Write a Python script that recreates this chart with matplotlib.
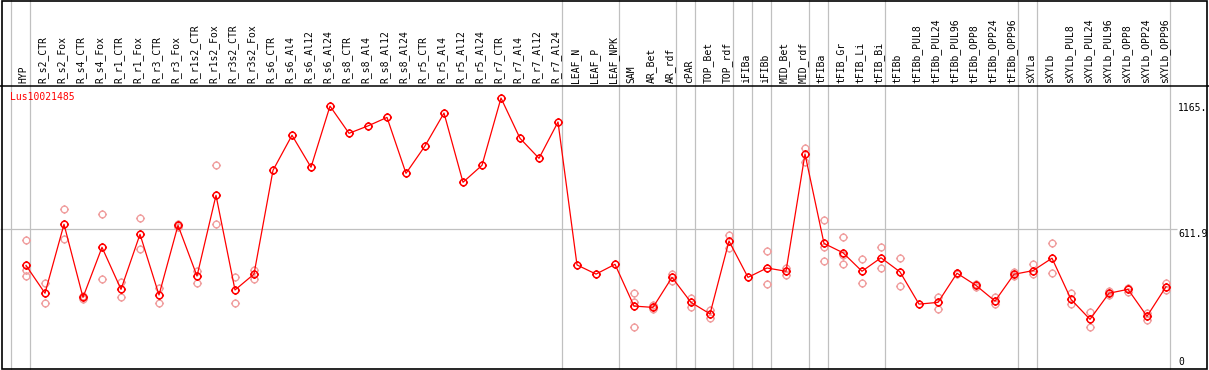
import numpy as np
import matplotlib.pyplot as plt
from matplotlib.path import Path
from matplotlib.patches import Rectangle

plt.rcParams['font.family'] = ['DejaVu Sans Mono']

gene = "Lus10021485"

samples = [
    "HYP", "R_s2_CTR", "R_s2_Fox", "R_s4_CTR", "R_s4_Fox", "R_r1_CTR", "R_r1_Fox",
    "R_r3_CTR", "R_r3_Fox", "R_r1s2_CTR", "R_r1s2_Fox", "R_r3s2_CTR", "R_r3s2_Fox",
    "R_s6_CTR", "R_s6_Al4", "R_s6_Al12", "R_s6_Al24", "R_s8_CTR", "R_s8_Al4",
    "R_s8_Al12", "R_s8_Al24", "R_r5_CTR", "R_r5_Al4", "R_r5_Al12", "R_r5_Al24",
    "R_r7_CTR", "R_r7_Al4", "R_r7_Al12", "R_r7_Al24", "LEAF_N", "LEAF_P", "LEAF_NPK",
    "SAM", "AR_Bet", "AR_rdf", "cPAR", "TOP_Bet", "TOP_rdf", "iFIBa", "iFIBb",
    "MID_Bet", "MID_rdf", "tFIBa", "tFIB_Gr", "tFIB_Li", "tFIB_Bi", "tFIBb",
    "tFIBb_PUL8", "tFIBb_PUL24", "tFIBb_PUL96", "tFIBb_OPP8", "tFIBb_OPP24",
    "tFIBb_OPP96", "sXYLa", "sXYLb", "sXYLb_PUL8", "sXYLb_PUL24", "sXYLb_PUL96",
    "sXYLb_OPP8", "sXYLb_OPP24", "sXYLb_OPP96",
]

means = [
    444, 316, 633, 297, 527, 334, 587, 308, 628, 395, 766, 331, 404,
    881, 1042, 895, 1176, 1051, 1085, 1124, 867, 993, 1144, 826, 904,
    1213, 1028, 936, 1103, 446, 404, 449,
    257, 251, 389, 274, 221, 556, 389, 432, 417, 956,
    545, 502, 417, 479, 414,
    266, 274, 408, 352, 280, 403,
    420, 477, 288, 196, 316, 334, 210, 346,
]

reps = [
    [559, 423, 395], [362, 270], [702, 564], [303, 290], [679, 380], [366, 300],
    [660, 518], [341, 270], [633, 622], [420, 364], [904, 633], [389, 270], [423, 380],
    [], [], [], [], [], [], [], [], [], [], [], [], [], [], [], [], [], [], [],
    [316, 277, 160], [262, 244], [404, 374], [296, 251], [239, 204], [584, 525], [],
    [510, 357], [433, 400], [982, 921],
    [653, 530, 463], [575, 492, 449], [472, 362], [527, 431], [478, 349],
    [], [300, 242], [411, 404], [357, 345], [300, 265], [415, 395],
    [449, 403], [545, 408], [316, 265], [228, 160], [326, 308], [340, 323],
    [227, 193], [364, 331],
]

group_ends = [-1, 0, 28, 31, 34, 35, 37, 38, 39, 41, 42, 45, 52, 53, 60]
y_ticks = [0, 611.9, 1165]
y_tick_labels = ["0", "611.9", "1165."]

W, H = 1209, 370
x0_px, dx_px = 26, 19          # first column and column spacing (px)
y0_px, dy_px = 362, 0.2176     # zero line (px) and px per unit

fig = plt.figure(figsize=(W / 100, H / 100), dpi=100)
ax = fig.add_axes([0, 0, 1, 1])
ax.set_xlim(-x0_px / dx_px, (W - x0_px) / dx_px)
ax.set_ylim(-(H - y0_px) / dy_px, y0_px / dy_px)
ax.axis('off')

grid_c = '#c0c0c0'
x = np.arange(len(samples))

# grid
for g in group_ends:
    ax.axvline(g + 0.22, color=grid_c, lw=0.9, zorder=1)
ax.hlines(y_ticks[1], ax.get_xlim()[0], 60.58, color=grid_c, lw=0.9, zorder=1)

# header
hdr = ax.get_xaxis_transform()
ax.axhline(0, color='none')
ax.plot([ax.get_xlim()[0], ax.get_xlim()[1]], [1 - 85.5 / H] * 2, color='black',
        lw=1.1, transform=hdr, clip_on=False, zorder=3)
for i, s in enumerate(samples):
    ax.text(i + 0.04, 1 - 83 / H, s, rotation=90, rotation_mode='anchor',
            ha='left', va='baseline', fontsize=7, transform=hdr)

# y tick labels
tx = (1178 - x0_px) / dx_px
ax.text(tx, y_ticks[0], y_tick_labels[0], fontsize=7, va='center', ha='left')
ax.text(tx, y_ticks[1], y_tick_labels[1], fontsize=7, va='top', ha='left')
ax.text(tx, y_ticks[2], y_tick_labels[2], fontsize=7, va='center', ha='left')

ax.text((10 - x0_px) / dx_px, (y0_px - 97) / dy_px, gene, color='red',
        fontsize=7, va='center', ha='left')

# marker: circle with four short stubs
stub = 1.35
marker = Path.make_compound_path(
    Path.unit_circle(),
    Path([[0, 1], [0, stub]], [Path.MOVETO, Path.LINETO]),
    Path([[0, -1], [0, -stub]], [Path.MOVETO, Path.LINETO]),
    Path([[1, 0], [stub, 0]], [Path.MOVETO, Path.LINETO]),
    Path([[-1, 0], [-stub, 0]], [Path.MOVETO, Path.LINETO]),
)

for i, r in enumerate(reps):
    if r:
        ax.plot([i] * len(r), r, ls='none', marker=marker, ms=6.5, mfc='none',
                mec='#f0a0a0', mew=1.0, zorder=4)

ax.plot(x, means, color='red', lw=0.9, marker=marker, ms=6.5, mfc='none',
        mec='red', mew=1.1, zorder=5)

# outer frame
fig.patches.append(Rectangle((1.5 / W, 1 - 368.5 / H), 1205 / W, 368 / H,
                             transform=fig.transFigure, fill=False,
                             edgecolor='black', lw=1.2))

fig.savefig('out.png', dpi=100)
